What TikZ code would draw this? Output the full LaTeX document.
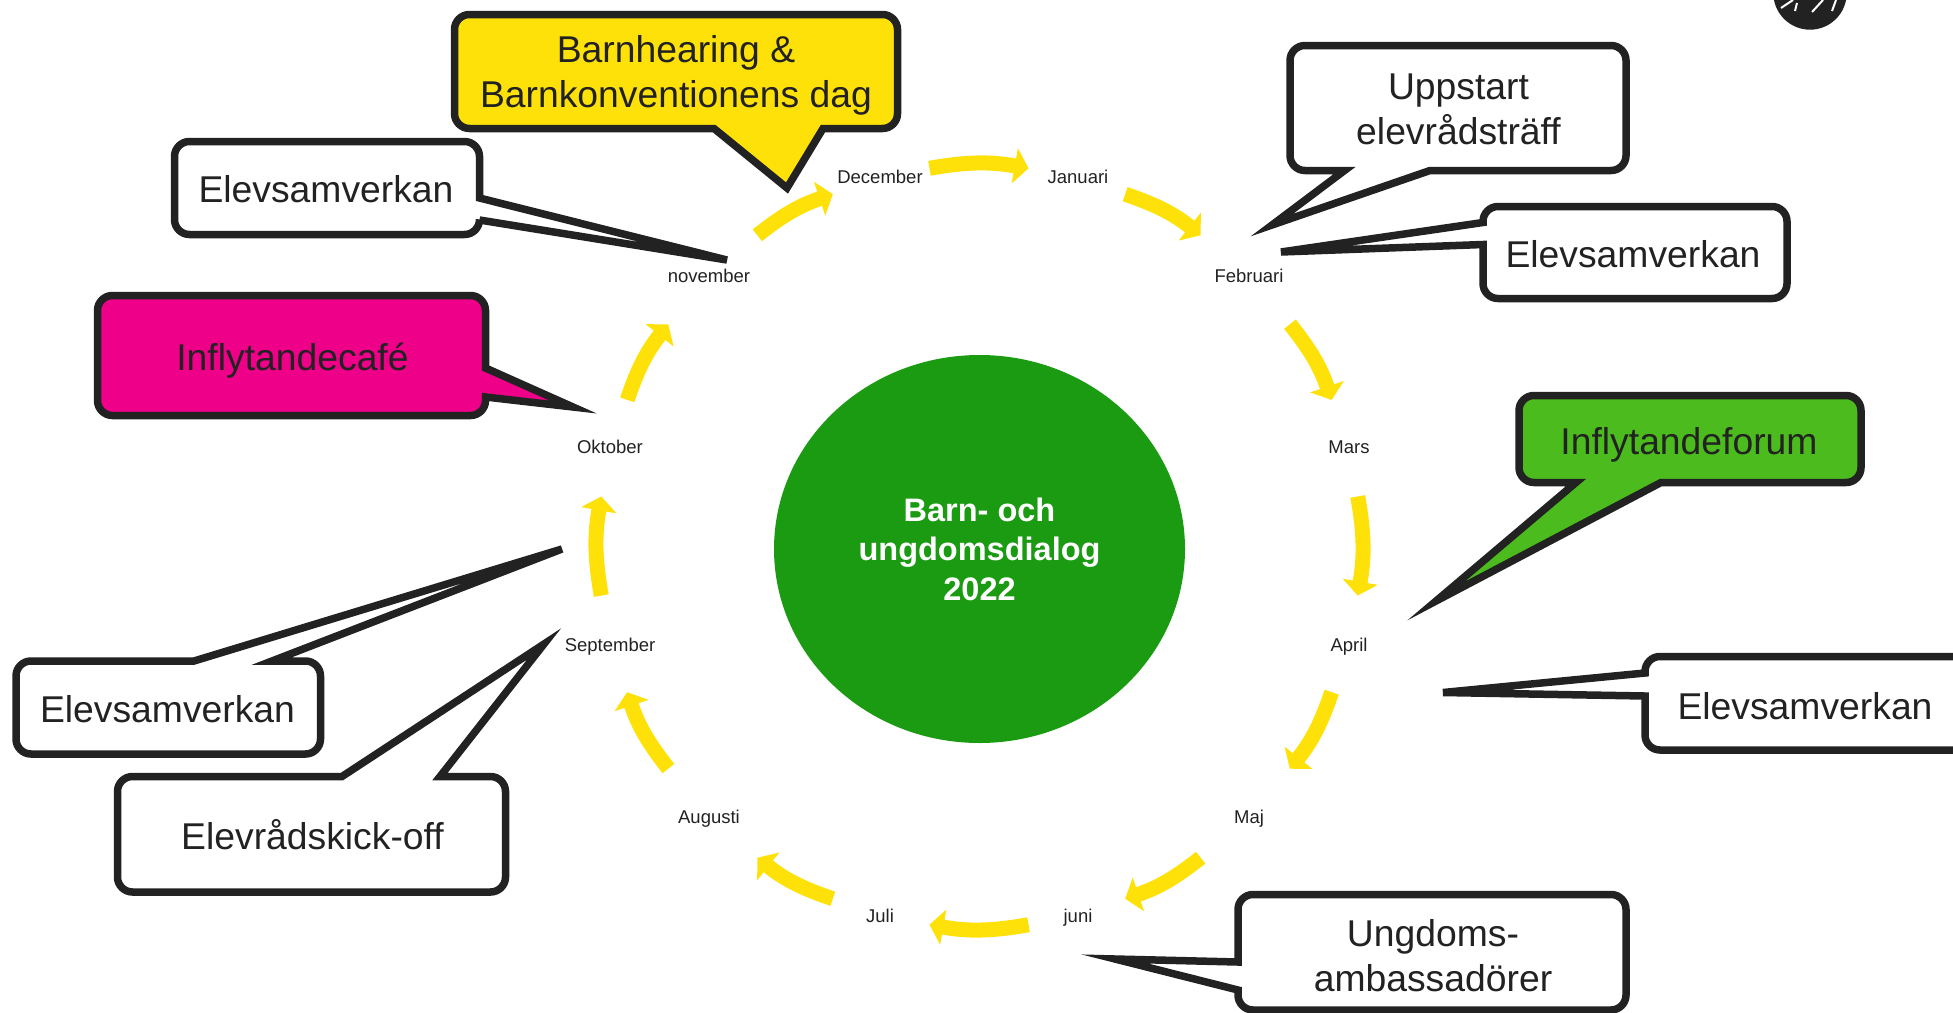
\documentclass[tikz,border=0pt]{standalone}
\usepackage{fontspec}
\setmainfont{Liberation Sans}
\usetikzlibrary{arrows.meta,positioning,shapes.geometric}
\definecolor{inkdark}{HTML}{222222}
\definecolor{hubgreen}{HTML}{1A9B12}
\definecolor{sungold}{HTML}{FFE10A}
\definecolor{cafepink}{HTML}{EE0088}
\definecolor{forumgreen}{HTML}{4BBB1E}
\tikzset{
    % Month label on the ring
    month/.style={circle,inner sep=0pt,text height=13.2pt,text depth=0pt,text=inkdark,font=\fontsize{18.5}{22}\selectfont},
    % Yellow arc between two months
    montharrow/.style={-{Triangle[length=14pt,width=35pt]},line width=15pt,sungold,bend left=10},
    % Speech bubble outline
    bubble/.style={line width=7.5pt,draw=inkdark,fill=white,line join=miter},
    % Text in a speech bubble
    bubbletext/.style={align=center,inner sep=0pt,text=inkdark,font=\fontsize{37.3}{45}\selectfont},
    % Centre of the ring
    hubnode/.style={ellipse,inner sep=0pt,fill=hubgreen,minimum width=411pt,minimum height=388pt,
        align=center,text=white,font=\fontsize{32.5}{39.5}\selectfont\bfseries}
}
\begin{document}
\begin{tikzpicture}[x=1pt,y=-1pt]
    \useasboundingbox (0,0) rectangle (1953,1012);
    \clip (0,0) rectangle (1953,1012);

    % Logo cut off by the top edge
    \fill[inkdark] (1810,-7) circle (36.7pt);
    \foreach \xa/\ya/\xb/\yb in {1781/8/1793/0,1795/11/1797/3,1812/12/1823/0,1832/11/1836/0}
        \draw[white,line width=2pt] (\xa,\ya) -- (\xb,\yb);

    % Centre
    \node[hubnode] (hub) at (979.5,549) {Barn- och\\ungdomsdialog\\2022};

    % Months on the ring
    \foreach \id/\txt/\xm/\ym/\gap in {jan/Januari/1078/177/100,feb/Februari/1249/276/126,mar/Mars/1349/447/100,
        apr/April/1349/645/100,maj/Maj/1249/817/126,jun/juni/1078/916/100,jul/Juli/880/916/100,
        aug/Augusti/709/817/126,sep/September/610/645/100,okt/Oktober/610/447/100,
        nov/november/709/276/126,dec/December/880/177/100}
        \node[month,minimum size=\gap pt] (\id) at (\xm,\ym) {\txt};

    % Arrows round the year
    \foreach \from/\to in {jan/feb,feb/mar,mar/apr,apr/maj,maj/jun,jun/jul,jul/aug,
        aug/sep,sep/okt,okt/nov,nov/dec,dec/jan}
        \draw[montharrow] (\from) to (\to);

    % Barnhearing
    \draw[bubble,fill=sungold] (714,128.5) [sharp corners] -- (787,188) -- (823,128.5)
        [rounded corners=15pt] -- (897.5,128.5) -- (897.5,14.5) -- (454.5,14.5) -- (454.5,128.5)
        [sharp corners] -- cycle;
    \node[bubbletext] (barn) at (676,75.5) {Barnhearing \&\\Barnkonventionens dag};

    % Elevsamverkan, top left
    \draw[bubble] (479.5,198) [sharp corners] -- (727,260) -- (479.5,220)
        [rounded corners=15pt] -- (479.5,234.5) -- (174.5,234.5) -- (174.5,141.5) -- (479.5,141.5)
        [sharp corners] -- cycle;
    \node[bubbletext] (elevnw) at (326,189) {Elevsamverkan};

    % Inflytandecafe
    \draw[bubble,fill=cafepink] (485.5,368) [sharp corners] -- (573,407) -- (485.5,397)
        [rounded corners=15pt] -- (485.5,415.5) -- (97.5,415.5) -- (97.5,295.5) -- (485.5,295.5)
        [sharp corners] -- cycle;
    \node[bubbletext] (cafe) at (292.5,360.5) {Inflytandecafé};

    % Elevsamverkan, lower left
    \draw[bubble] (194,661) [sharp corners] -- (562,549) -- (272,661)
        [rounded corners=15pt] -- (320.5,661) -- (320.5,754) -- (16,754) -- (16,661)
        [sharp corners] -- cycle;
    \node[bubbletext] (elevsw) at (167.5,709) {Elevsamverkan};

    % Elevradskick-off
    \draw[bubble] (342,776.5) [sharp corners] -- (544,644) -- (440,776.5)
        [rounded corners=15pt] -- (505.5,776.5) -- (505.5,892) -- (117.5,892) -- (117.5,776.5)
        [sharp corners] -- cycle;
    \node[bubbletext] (kick) at (312.5,835) {Elevrådskick-off};

    % Ungdomsambassadorer
    \draw[bubble] (1238,962) [sharp corners] -- (1115,959) -- (1238,990)
        [rounded corners=15pt] -- (1238,1010) -- (1626,1010) -- (1626,894.5) -- (1238,894.5)
        [sharp corners] -- cycle;
    \node[bubbletext] (ungdom) at (1433,956) {Ungdoms-\\ambassadörer};

    % Elevsamverkan, right
    \draw[bubble] (1645,673) [sharp corners] -- (1443,692.5) -- (1645,696)
        [rounded corners=15pt] -- (1645,750) -- (1990,750) -- (1990,656.5) -- (1645,656.5)
        [sharp corners] -- cycle;
    \node[bubbletext] (elevea) at (1805,706) {Elevsamverkan};

    % Inflytandeforum
    \draw[bubble,fill=forumgreen] (1576,482.5) [sharp corners] -- (1436,601) -- (1661,482.5)
        [rounded corners=15pt] -- (1861,482.5) -- (1861,395.5) -- (1519,395.5) -- (1519,482.5)
        [sharp corners] -- cycle;
    \node[bubbletext] (forum) at (1689,444.5) {Inflytandeforum};

    % Uppstart
    \draw[bubble] (1344.5,170.5) [sharp corners] -- (1272,225) -- (1430,170.5)
        [rounded corners=15pt] -- (1626,170.5) -- (1626,45.5) -- (1290,45.5) -- (1290,170.5)
        [sharp corners] -- cycle;
    \node[bubbletext] (upp) at (1458.5,109.5) {Uppstart\\elevrådsträff};

    % Elevsamverkan, top right
    \draw[bubble] (1483,222.5) [sharp corners] -- (1281,252) -- (1483,244.5)
        [rounded corners=15pt] -- (1483,298.5) -- (1787,298.5) -- (1787,206.5) -- (1483,206.5)
        [sharp corners] -- cycle;
    \node[bubbletext] (elevne) at (1633,254) {Elevsamverkan};
\end{tikzpicture}
\end{document}
